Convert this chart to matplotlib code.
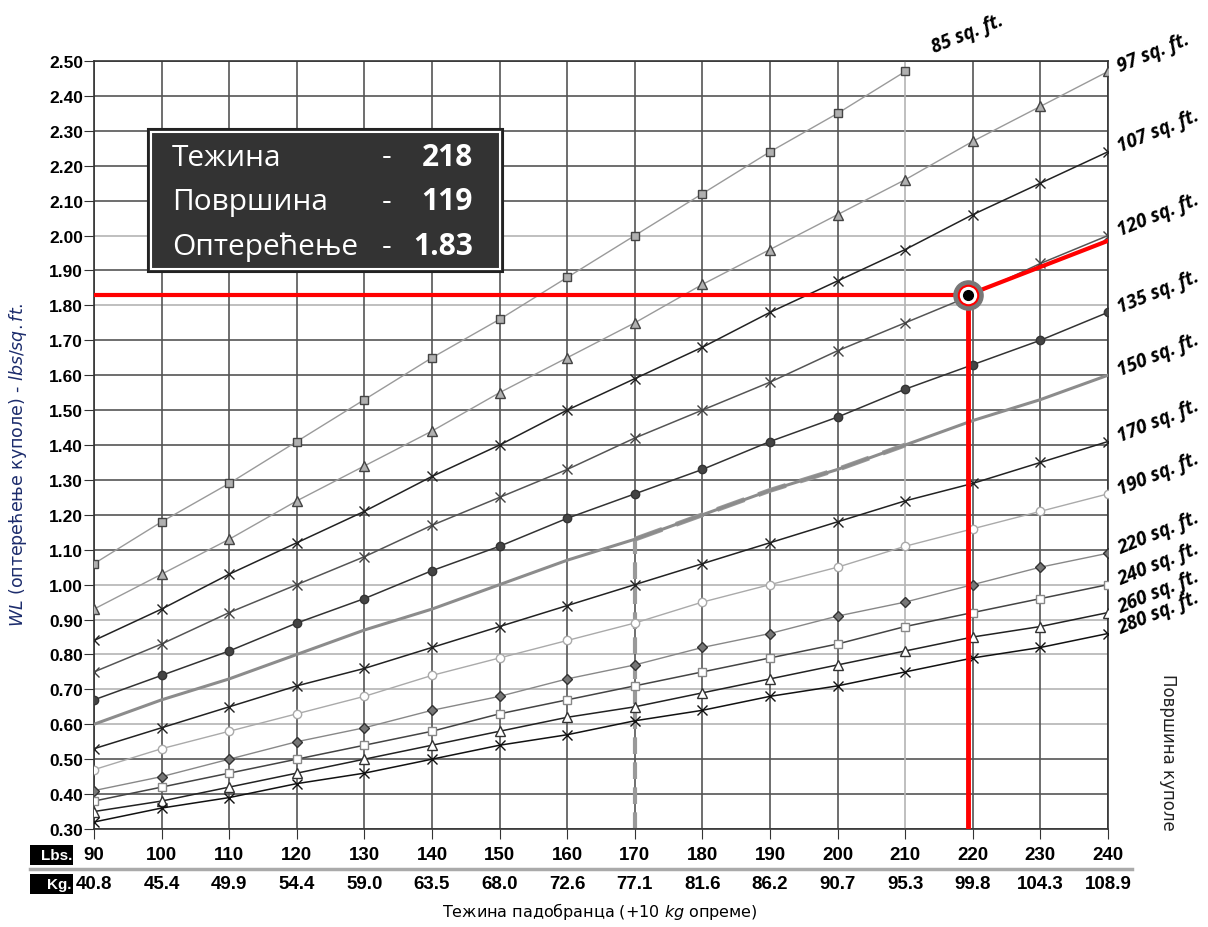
import numpy as np
import matplotlib.pyplot as plt
from matplotlib.lines import Line2D
from matplotlib.patches import Rectangle

plt.rcParams['mathtext.fontset'] = 'custom'
plt.rcParams['mathtext.it'] = 'DejaVu Sans:italic'
plt.rcParams['mathtext.rm'] = 'DejaVu Sans'

# weights (lbs) and their kg equivalents shown on the axis
lbs = [90, 100, 110, 120, 130, 140, 150, 160, 170, 180, 190, 200, 210, 220, 230, 240]
kg = ['40.8', '45.4', '49.9', '54.4', '59.0', '63.5', '68.0', '72.6', '77.1',
      '81.6', '86.2', '90.7', '95.3', '99.8', '104.3', '108.9']

# wing loading per canopy size
wl_85 = [1.06, 1.18, 1.29, 1.41, 1.53, 1.65, 1.76, 1.88, 2.00, 2.12, 2.24, 2.35, 2.47]
wl_97 = [0.93, 1.03, 1.13, 1.24, 1.34, 1.44, 1.55, 1.65, 1.75, 1.86, 1.96, 2.06, 2.16, 2.27, 2.37, 2.47]
wl_107 = [0.84, 0.93, 1.03, 1.12, 1.21, 1.31, 1.40, 1.50, 1.59, 1.68, 1.78, 1.87, 1.96, 2.06, 2.15, 2.24]
wl_120 = [0.75, 0.83, 0.92, 1.00, 1.08, 1.17, 1.25, 1.33, 1.42, 1.50, 1.58, 1.67, 1.75, 1.83, 1.92, 2.00]
wl_135 = [0.67, 0.74, 0.81, 0.89, 0.96, 1.04, 1.11, 1.19, 1.26, 1.33, 1.41, 1.48, 1.56, 1.63, 1.70, 1.78]
wl_150 = [0.60, 0.67, 0.73, 0.80, 0.87, 0.93, 1.00, 1.07, 1.13, 1.20, 1.27, 1.33, 1.40, 1.47, 1.53, 1.60]
wl_170 = [0.53, 0.59, 0.65, 0.71, 0.76, 0.82, 0.88, 0.94, 1.00, 1.06, 1.12, 1.18, 1.24, 1.29, 1.35, 1.41]
wl_190 = [0.47, 0.53, 0.58, 0.63, 0.68, 0.74, 0.79, 0.84, 0.89, 0.95, 1.00, 1.05, 1.11, 1.16, 1.21, 1.26]
wl_220 = [0.41, 0.45, 0.50, 0.55, 0.59, 0.64, 0.68, 0.73, 0.77, 0.82, 0.86, 0.91, 0.95, 1.00, 1.05, 1.09]
wl_240 = [0.38, 0.42, 0.46, 0.50, 0.54, 0.58, 0.63, 0.67, 0.71, 0.75, 0.79, 0.83, 0.88, 0.92, 0.96, 1.00]
wl_260 = [0.35, 0.38, 0.42, 0.46, 0.50, 0.54, 0.58, 0.62, 0.65, 0.69, 0.73, 0.77, 0.81, 0.85, 0.88, 0.92]
wl_280 = [0.32, 0.36, 0.39, 0.43, 0.46, 0.50, 0.54, 0.57, 0.61, 0.64, 0.68, 0.71, 0.75, 0.79, 0.82, 0.86]

# highlighted example
point_x, point_y = 219.3, 1.83
red_end_x, red_end_y = 240, 1.985
info_rows = [('Тежина', '218'), ('Површина', '119'), ('Оптерећење', '1.83')]

series = [
    ('85', wl_85, dict(color='#9a9a9a', lw=1, marker='s', mfc='#b0b0b0', mec='#444', ms=6)),
    ('97', wl_97, dict(color='#9a9a9a', lw=1, marker='^', mfc='#b0b0b0', mec='#444', ms=7)),
    ('107', wl_107, dict(color='#222', lw=1.1, marker='x', mec='#222', ms=7)),
    ('120', wl_120, dict(color='#555', lw=1.1, marker='x', mec='#444', ms=7)),
    ('135', wl_135, dict(color='#333', lw=1.1, marker='o', mfc='#444', mec='#333', ms=6)),
    ('150', wl_150, dict(color='#8c8c8c', lw=2.2)),
    ('170', wl_170, dict(color='#222', lw=1.1, marker='x', mec='#222', ms=7)),
    ('190', wl_190, dict(color='#aaaaaa', lw=1, marker='o', mfc='white', mec='#aaa', ms=6)),
    ('220', wl_220, dict(color='#888', lw=1, marker='D', mfc='#777', mec='#333', ms=5)),
    ('240', wl_240, dict(color='#444', lw=1.1, marker='s', mfc='white', mec='#888', ms=6)),
    ('260', wl_260, dict(color='#222', lw=1.1, marker='^', mfc='white', mec='#333', ms=7)),
    ('280', wl_280, dict(color='#111', lw=1.1, marker='x', mec='#111', ms=7)),
]

fig = plt.figure(figsize=(12.08, 9.28), dpi=100)
ax = fig.add_axes([94 / 1208, 98 / 928, 1014 / 1208, 768 / 928])
ax.set_xlim(90, 240)
ax.set_ylim(0.30, 2.50)

# grid: mostly dark, a few lighter lines as in the original
yticks = np.round(np.arange(0.30, 2.501, 0.10), 2)
light_y = [0.60, 0.70, 0.80, 0.90, 1.00, 1.80, 2.00]
light_x = [210]
for y in yticks:
    ax.axhline(y, color='#b4b4b4' if y in light_y else '#555', lw=1.2, zorder=1)
for x in lbs:
    ax.axvline(x, color='#b4b4b4' if x in light_x else '#555', lw=1.2, zorder=1)

for name, vals, st in series:
    ax.plot(lbs[:len(vals)], vals, zorder=3, **st)
    tx, ty = lbs[len(vals) - 1], vals[-1]
    off = (21, 14) if name == '85' else (9, 0)
    ax.annotate(f'{name} sq. ft.', (tx, ty), xytext=off, textcoords='offset points',
                rotation=22, rotation_mode='anchor', ha='left', va='baseline',
                fontsize=13.5, fontweight='bold', fontstyle='italic',
                family=['Open Sans', 'DejaVu Sans'], annotation_clip=False)

# dashed gray marks at 170 lbs on the 150 sq.ft. line
ax.plot([170, 170], [0.30, wl_150[8]], color='#999', lw=3, ls=(0, (4, 2)), zorder=2)
ax.plot(lbs[8:13], wl_150[8:13], color='#999', lw=3.5, ls=(0, (6, 3)), zorder=2)

# red example lines
ax.plot([90, point_x], [point_y, point_y], color='red', lw=3, zorder=4, solid_capstyle='butt')
ax.plot([point_x, point_x], [0.30, point_y], color='red', lw=3.5, zorder=4, solid_capstyle='butt')
ax.plot([point_x, red_end_x], [point_y, red_end_y], color='red', lw=3, zorder=4)
ax.plot(point_x, point_y, 'o', ms=21, mfc='#777', mec='#777', zorder=5)
ax.plot(point_x, point_y, 'o', ms=14, mfc='white', mec='red', mew=1.5, zorder=6)
ax.plot(point_x, point_y, 'o', ms=7, mfc='black', mec='black', zorder=7)

for s in ax.spines.values():
    s.set_color('#333')
    s.set_linewidth(1.2)

ax.set_yticks(yticks)
ax.set_yticklabels([f'{v:.2f}' for v in yticks], fontsize=12.5, fontweight='bold',
                   family='Liberation Sans')
ax.tick_params(axis='y', length=7, pad=1, color='#333')
ax.set_xticks(lbs)
ax.set_xticklabels([])
ax.tick_params(axis='x', length=7, color='#333')

# two rows of x labels
for i, x in enumerate(lbs):
    ax.text(x, -26 / 768, str(x), transform=ax.get_xaxis_transform(), ha='center', va='center',
            fontsize=13.5, fontweight='bold', family='Liberation Sans')
    ax.text(x, -55 / 768, kg[i], transform=ax.get_xaxis_transform(), ha='center', va='center',
            fontsize=13.5, fontweight='bold', family='Liberation Sans')

W, H = 1208, 928
for label, yc in [('Lbs.', 856), ('Kg.', 885)]:
    fig.patches.append(Rectangle((30 / W, 1 - (yc + 10) / H), 43 / W, 20 / H,
                                 transform=fig.transFigure, fc='black', ec='none'))
    fig.text(72 / W, 1 - yc / H, label, color='white', ha='right', va='center',
             fontsize=11, fontweight='bold', family='Liberation Sans')
fig.lines.append(Line2D([30 / W, 1132 / W], [1 - 870 / H, 1 - 870 / H], transform=fig.transFigure,
                        color='#aaa', lw=2.5))

fig.text(600 / W, 1 - 912 / H, 'Тежина падобранца (+10 $\\mathit{kg}$ опреме)', ha='center',
         va='center', fontsize=11.5)
fig.text(18 / W, 1 - 465 / H, '$\\mathit{WL}$ (оптерећење куполе) - $\\mathit{lbs/sq.ft.}$',
         rotation=90, ha='center', va='center', fontsize=12.5, color='#1c2c6c')
fig.text(1168 / W, 1 - 752 / H, 'Површина куполе', rotation=270, ha='center', va='center',
         fontsize=12, color='#222')

# info box
fig.patches.append(Rectangle((148 / W, 1 - 273 / H), 355 / W, 143 / H, transform=fig.transFigure,
                             fc='#333', ec='#222', lw=1.5, zorder=10))
fig.patches.append(Rectangle((151 / W, 1 - 270 / H), 349 / W, 137 / H, transform=fig.transFigure,
                             fc='#333', ec='white', lw=1.5, zorder=10))
for i, (name, val) in enumerate(info_rows):
    yc = 1 - (158 + 44.5 * i) / H
    fig.text(172 / W, yc, name, color='white', fontsize=21.5, va='center', ha='left',
             family=['Open Sans', 'DejaVu Sans'], zorder=11)
    fig.text(387 / W, yc, '-', color='white', fontsize=21.5, va='center', ha='center',
             family=['Open Sans', 'DejaVu Sans'], zorder=11)
    fig.text(473 / W, yc, val, color='white', fontsize=21.5, fontweight='bold', va='center',
             ha='right', family=['Open Sans', 'DejaVu Sans'], zorder=11)

fig.savefig('out.png', dpi=100)
